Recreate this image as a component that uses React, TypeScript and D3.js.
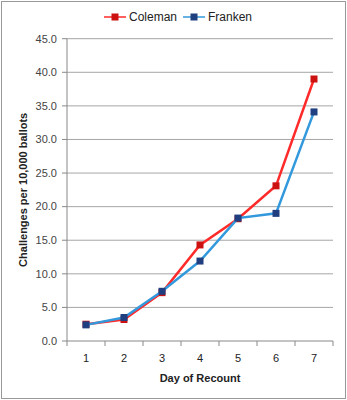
import React from "react";
import * as d3 from "d3";

const days = ["1", "2", "3", "4", "5", "6", "7"];
const coleman = [2.5, 3.2, 7.2, 14.3, 18.2, 23.1, 39.0];
const franken = [2.4, 3.5, 7.4, 11.9, 18.3, 19.0, 34.1];
const yTicks = [0, 5, 10, 15, 20, 25, 30, 35, 40, 45];

const W = 347, H = 400;
const L = 67, R = 333, T = 38.7, B = 341;

export default function App() {
  const x = d3.scaleBand<string>().domain(days).range([L, R]);
  const y = d3.scaleLinear().domain([0, 45]).range([B, T]);
  const line = d3
    .line<number>()
    .x((_, i) => (x(days[i]) as number) + x.bandwidth() / 2)
    .y((d) => y(d));
  const font = "Arial, 'Liberation Sans', sans-serif";
  const series = [
    { name: "Coleman", data: coleman, line: "#FF2A2A", mark: "#CC1111", lx: 104 },
    { name: "Franken", data: franken, line: "#3399DD", mark: "#1F3F80", lx: 183 },
  ];
  const bounds = [...days.map((d) => x(d) as number), R];
  return (
    <svg width={W} height={H} style={{ position: "absolute", left: 0, top: 0 }} fontFamily={font}>
      <rect x={1.5} y={1.5} width={W - 3} height={H - 3} fill="#fff" stroke="#999" />
      {yTicks.map((t) => (
        <g key={t}>
          {t > 0 && <line x1={L} x2={R} y1={y(t)} y2={y(t)} stroke="#A6A6A6" strokeWidth={1} />}
          <line x1={L - 5} x2={L} y1={y(t)} y2={y(t)} stroke="#888" />
          <text x={57} y={y(t)} dy="0.35em" textAnchor="end" fontSize={11} fill="#444">
            {t.toFixed(1)}
          </text>
        </g>
      ))}
      <line x1={L} x2={L} y1={T} y2={B} stroke="#888" />
      <line x1={L} x2={R} y1={B} y2={B} stroke="#888" />
      {bounds.map((b, i) => (
        <line key={i} x1={b} x2={b} y1={B} y2={B + 5} stroke="#888" />
      ))}
      {days.map((d) => (
        <text key={d} x={(x(d) as number) + x.bandwidth() / 2} y={358} dy="0.35em" textAnchor="middle" fontSize={11} fill="#222">
          {d}
        </text>
      ))}
      <text x={200} y={378} dy="0.35em" textAnchor="middle" fontSize={11} fontWeight="bold" fill="#222">
        Day of Recount
      </text>
      <text transform={`translate(23,${(T + B) / 2}) rotate(-90)`} dy="0.35em" textAnchor="middle" fontSize={11} fontWeight="bold" fill="#222">
        Challenges per 10,000 ballots
      </text>
      {series.map((s) => (
        <g key={s.name}>
          <path d={line(s.data) as string} fill="none" stroke={s.line} strokeWidth={2.5} />
          {s.data.map((v, i) => (
            <rect key={i} x={(x(days[i]) as number) + x.bandwidth() / 2 - 3.5} y={y(v) - 3.5} width={7} height={7} fill={s.mark} />
          ))}
          <line x1={s.lx} x2={s.lx + 22} y1={17} y2={17} stroke={s.line} strokeWidth={1.5} />
          <rect x={s.lx + 7.5} y={13.5} width={7} height={7} fill={s.mark} />
          <text x={s.lx + 25} y={17} dy="0.35em" fontSize={12} fill="#222">
            {s.name}
          </text>
        </g>
      ))}
    </svg>
  );
}
